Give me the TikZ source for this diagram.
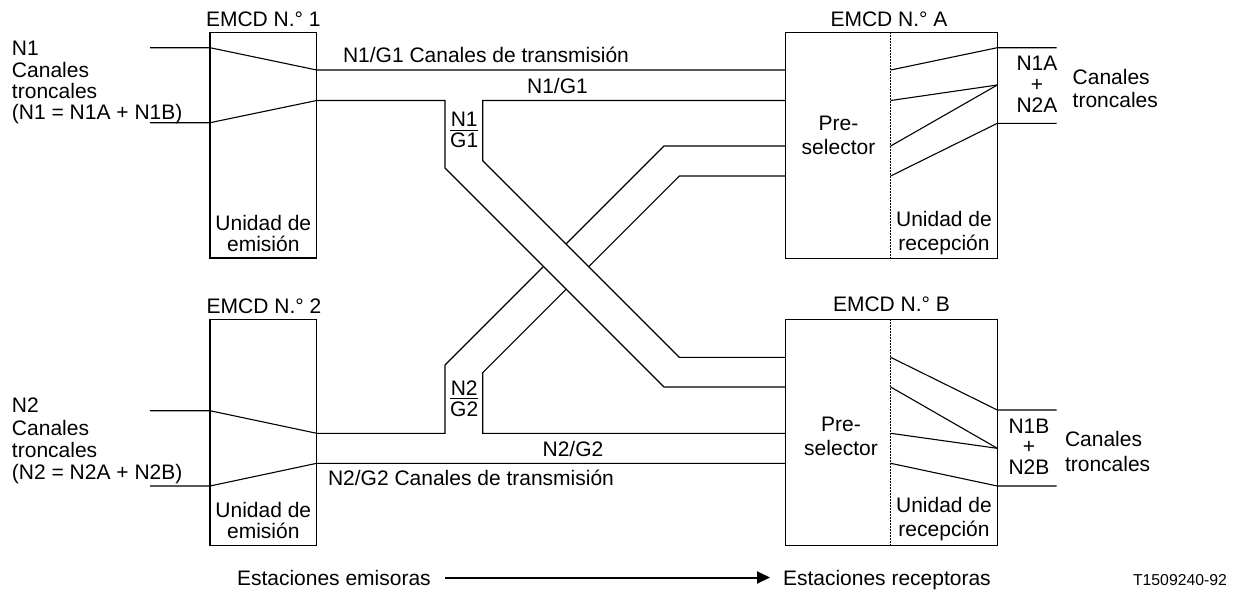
\documentclass[tikz,border=0pt]{standalone}
\usepackage{fontspec}
\setmainfont{Liberation Sans}
\usetikzlibrary{arrows.meta}
\begin{document}
\begin{tikzpicture}[x=1pt,y=-1pt,
  ln/.style={line width=1.1pt, line join=miter},
  box/.style={draw, line width=1.1pt, inner sep=0pt, outer sep=0pt, rectangle},
  lbl/.style={inner sep=0pt, outer sep=0pt, font=\fontsize{21}{24}\selectfont},
  small/.style={inner sep=0pt, outer sep=0pt, font=\fontsize{15.8}{18}\selectfont},
  divider/.style={line width=1.2pt, dash pattern=on 1.5pt off 1.5pt},
]
\useasboundingbox (0,0) rectangle (1234,590);

% boxes
\node[box, minimum width=106.7pt, minimum height=225.7pt] (e1) at (263.35,145.15) {};
\node[box, minimum width=106.7pt, minimum height=226.4pt] (e2) at (263.35,432.5) {};
\node[box, minimum width=211.6pt, minimum height=226pt] (rA) at (891.5,145.3) {};
\node[box, minimum width=211.6pt, minimum height=226.4pt] (rB) at (891.5,432.5) {};

% helper coordinates
\coordinate (ya) at (0,70);
\coordinate (yb) at (0,100.5);
\coordinate (yc) at (0,146);
\coordinate (yd) at (0,176);
\coordinate (ye) at (0,357.3);
\coordinate (yf) at (0,387);
\coordinate (yg) at (0,433.3);
\coordinate (yh) at (0,463.3);
\coordinate (dv) at (890.7,0);
\coordinate (i1) at (150,47.7);
\coordinate (i2) at (150,122.7);
\coordinate (i3) at (150,410.7);
\coordinate (i4) at (150,486);
\coordinate (oA1) at (1056.7,47.7);
\coordinate (cA) at (0,85);
\coordinate (oA2) at (1056.7,123.3);
\coordinate (oB1) at (1056.7,410);
\coordinate (cB) at (0,448.3);
\coordinate (oB2) at (1056.7,486);

% dividers
\draw[divider] (rA.north -| dv) -- (rA.south -| dv);
\draw[divider] (rB.north -| dv) -- (rB.south -| dv);

% transmission lines
\draw[ln] (i1) -- (e1.west |- i1) -- (e1.east |- ya) -- (rA.west |- ya);
\draw[ln] (i4) -- (e2.west |- i4) -- (e2.east |- yh) -- (rB.west |- yh);

% N2/G2 band (underneath)
\draw[ln] (i3) -- (e2.west |- i3) -- (e2.east |- yg) -- (445,433.3) -- (445,365) -- (664,146) -- (rA.west |- yc);
\draw[ln] (rB.west |- yg) -- (482.7,433.3) -- (482.7,372.7) -- (679.3,176) -- (rA.west |- yd);

% N1/G1 band (on top)
\fill[white] (445,168) -- (482.7,160.7) -- (679.3,357.3) -- (664,387) -- cycle;
\draw[ln] (i2) -- (e1.west |- i2) -- (e1.east |- yb) -- (445,100.5) -- (445,168) -- (664,387) -- (rB.west |- yf);
\draw[ln] (rA.west |- yb) -- (482.7,100.5) -- (482.7,160.7) -- (679.3,357.3) -- (rB.west |- ye);

% inside receiving units
\draw[ln] (dv |- ya) -- (rA.east |- oA1) -- (oA1);
\draw[ln] (dv |- yb) -- (rA.east |- cA);
\draw[ln] (dv |- yc) -- (rA.east |- cA);
\draw[ln] (dv |- yd) -- (rA.east |- oA2) -- (oA2);
\draw[ln] (dv |- ye) -- (rB.east |- oB1) -- (oB1);
\draw[ln] (dv |- yf) -- (rB.east |- cB);
\draw[ln] (dv |- yg) -- (rB.east |- cB);
\draw[ln] (dv |- yh) -- (rB.east |- oB2) -- (oB2);

% box titles
\node[lbl, anchor=base] (t1) at (263.3,26.7) {EMCD N.° 1};
\node[lbl, anchor=base] (t2) at (264,313) {EMCD N.° 2};
\node[lbl, anchor=base] (tA) at (889,26) {EMCD N.° A};
\node[lbl, anchor=base] (tB) at (891.5,311.7) {EMCD N.° B};

% box inner texts
\node[lbl, anchor=base] (u1a) at (263.3,230) {Unidad de};
\node[lbl, anchor=base] (u1b) at (263.3,251) {emisión};
\node[lbl, anchor=base] (u2a) at (263.3,517.5) {Unidad de};
\node[lbl, anchor=base] (u2b) at (263.3,538.5) {emisión};
\node[lbl, anchor=base] (pAa) at (838.5,130) {Pre-};
\node[lbl, anchor=base] (pAb) at (838.5,154) {selector};
\node[lbl, anchor=base] (pBa) at (841,431.7) {Pre-};
\node[lbl, anchor=base] (pBb) at (841,455) {selector};
\node[lbl, anchor=base] (rAa) at (944,226) {Unidad de};
\node[lbl, anchor=base] (rAb) at (944,250) {recepción};
\node[lbl, anchor=base] (rBa) at (944,512.7) {Unidad de};
\node[lbl, anchor=base] (rBb) at (944,536.7) {recepción};

% left texts
\node[lbl, anchor=base west] (n1a) at (12,55) {N1};
\node[lbl, anchor=base west] (n1b) at (12,77) {Canales};
\node[lbl, anchor=base west] (n1c) at (12,98.5) {troncales};
\node[lbl, anchor=base west] (n1d) at (12,119.5) {(N1 = N1A + N1B)};
\node[lbl, anchor=base west] (n2a) at (12,412.7) {N2};
\node[lbl, anchor=base west] (n2b) at (12,435) {Canales};
\node[lbl, anchor=base west] (n2c) at (12,457) {troncales};
\node[lbl, anchor=base west] (n2d) at (12,479) {(N2 = N2A + N2B)};

% right texts
\node[lbl, anchor=base] (ra1) at (1037,70) {N1A};
\node[lbl, anchor=base] (ra2) at (1037,91.5) {+};
\node[lbl, anchor=base] (ra3) at (1037,112) {N2A};
\node[lbl, anchor=base west] (ra4) at (1072.7,84) {Canales};
\node[lbl, anchor=base west] (ra5) at (1072.7,107.5) {troncales};
\node[lbl, anchor=base] (rb1) at (1029,433) {N1B};
\node[lbl, anchor=base] (rb2) at (1029,453.5) {+};
\node[lbl, anchor=base] (rb3) at (1029,474.5) {N2B};
\node[lbl, anchor=base west] (rb4) at (1065,446.7) {Canales};
\node[lbl, anchor=base west] (rb5) at (1065,471) {troncales};

% channel labels
\node[lbl, anchor=base west] (c1) at (343,62.7) {N1/G1 Canales de transmisión};
\node[lbl, anchor=base] (c2) at (557.5,93.3) {N1/G1};
\node[lbl, anchor=base] (c3) at (573,456) {N2/G2};
\node[lbl, anchor=base west] (c4) at (328,485.5) {N2/G2 Canales de transmisión};

% fractions
\node[lbl, anchor=base] (f1n) at (464.2,126.7) {N1};
\node[lbl, anchor=base] (f1d) at (464.2,147) {G1};
\draw[line width=1.5pt] (450,130.7) -- (478.3,130.7);
\node[lbl, anchor=base] (f2n) at (464.2,395) {N2};
\node[lbl, anchor=base] (f2d) at (464.2,416.3) {G2};
\draw[line width=1.5pt] (450,398.5) -- (478.3,398.5);

% bottom
\node[lbl, anchor=base west] (em) at (237,585) {Estaciones emisoras};
\node[lbl, anchor=base west] (rc) at (783,585) {Estaciones receptoras};
\draw[line width=2pt, -{Triangle[length=13pt,width=12pt]}, shorten <=14pt, shorten >=13pt] (em.east) -- (em.east -| rc.west);
\node[small, anchor=base west] (code) at (1133,585) {T1509240-92};
\end{tikzpicture}
\end{document}
